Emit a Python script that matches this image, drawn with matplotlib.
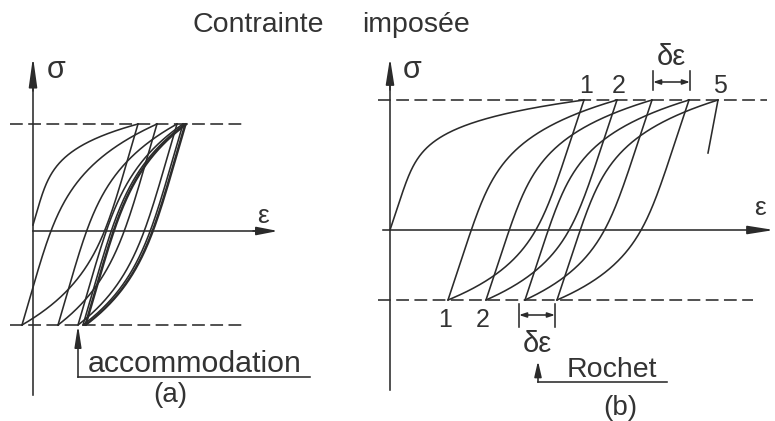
import numpy as np
import matplotlib.pyplot as plt

plt.rcParams['font.family'] = ['Liberation Sans', 'DejaVu Sans']

# -----------------------------
# Data (strain / stress in drawing units, origin at each panel's axes)
# -----------------------------
# (a) imposed stress, loops settle onto a stable cycle
a_sig_max = 107
a_sig_min = -94
a_load_start = (0, 6)
a_top_eps = [105, 124, 144, 150, 152, 153, 154]
a_bot_eps = [-11, 25, 45, 50, 52, 53]

# (b) imposed stress with a mean stress, strain keeps drifting
b_sig_max = 130
b_sig_min = -70
b_load_start = (0, 0)
b_top_eps = [194, 227, 262, 299, 328]
b_bot_eps = [58, 96, 135, 167]
b_last_unload_end = (318, 77)

b_top_labels = ["1", "2", "5"]
b_top_label_idx = [0, 1, 4]
b_bot_labels = ["1", "2"]
b_bot_label_idx = [0, 1]

# ratchet increments marked on the drawing
b_top_delta = (263, 300)
b_bot_delta = (129, 165)

# -----------------------------
# Style
# -----------------------------
W, H = 775, 421
INK = "#2b2b2b"
TXT = "#333333"
LW = 1.15
DASH = (0, (8, 3.4))


def branch(e0, s0, e1, s1, comp, n, num=300):
    """Half cycle: elastic line that bends into plastic flow near the end."""
    t = np.linspace(0, 1, num)
    s = 1 - (1 - t) ** 2
    sig = s0 + (s1 - s0) * s
    elastic = comp * (sig - s0)
    plastic = (e1 - e0 - comp * (s1 - s0)) * s ** n
    return e0 + elastic + plastic, sig


def cycles(start, tops, bots, smax, smin, comp, n_load, n_cyc):
    paths = [branch(start[0], start[1], tops[0], smax, comp, n_load)]
    for i, eb in enumerate(bots):
        paths.append(branch(tops[i], smax, eb, smin, comp, n_cyc))
        if i + 1 < len(tops):
            paths.append(branch(eb, smin, tops[i + 1], smax, comp, n_cyc))
    return paths


def arrow(ax, start, tip, hl, hw, style="-|>"):
    ax.annotate("", xy=tip, xytext=start,
                arrowprops=dict(arrowstyle=f"{style},head_length={hl * 0.72},head_width={hw * 0.72}",
                                mutation_scale=1, lw=LW, color=INK,
                                shrinkA=0, shrinkB=0))


def panel(ox, oy):
    ax = fig.add_axes([0, 0, 1, 1])
    ax.set_xlim(-ox, W - ox)
    ax.set_ylim(oy - H, oy)
    ax.axis("off")
    ax.patch.set_alpha(0)
    return ax


fig = plt.figure(figsize=(W / 100, H / 100), dpi=100)
fig.patch.set_facecolor("white")

# -----------------------------
# Panel (a)
# -----------------------------
ax_a = panel(33, 231)

for x, y in cycles(a_load_start, a_top_eps, a_bot_eps, a_sig_max, a_sig_min, 0.29, 4.5, 5):
    ax_a.plot(x, y, color=INK, lw=LW)

ax_a.plot([-23, 210], [a_sig_max, a_sig_max], color=INK, lw=LW, ls=DASH)
ax_a.plot([-23, 210], [a_sig_min, a_sig_min], color=INK, lw=LW, ls=DASH)

ax_a.plot([0, 0], [-164, 150], color=INK, lw=LW)
arrow(ax_a, (0, 140), (0, 174), 25, 3.5)
ax_a.plot([0, 228], [0, 0], color=INK, lw=LW)
arrow(ax_a, (220, 0), (245, 0), 18, 3.5)

ax_a.text(23, 161, "σ", fontsize=22, color=TXT, ha="center", va="center")
ax_a.text(230, 15, "ε", fontsize=19, color=TXT, ha="center", va="center")

# accommodation marker
ax_a.plot([45, 277], [-146, -146], color=INK, lw=LW)
ax_a.plot([45, 45], [-146, -110], color=INK, lw=LW)
arrow(ax_a, (45, -115), (45, a_sig_min), 18, 2.8)
ax_a.text(55, -141, "accommodation", fontsize=21.8, color=TXT, ha="left", va="baseline")
ax_a.text(137, -164, "(a)", fontsize=20, color=TXT, ha="center", va="center")

# -----------------------------
# Panel (b)
# -----------------------------
ax_b = panel(390, 230)

for x, y in cycles(b_load_start, b_top_eps, b_bot_eps, b_sig_max, b_sig_min, 0.33, 6, 6):
    ax_b.plot(x, y, color=INK, lw=LW)
ax_b.plot([b_top_eps[-1], b_last_unload_end[0]], [b_sig_max, b_last_unload_end[1]],
          color=INK, lw=LW)

ax_b.plot([-12, 377], [b_sig_max, b_sig_max], color=INK, lw=LW, ls=DASH)
ax_b.plot([-12, 363], [b_sig_min, b_sig_min], color=INK, lw=LW, ls=DASH)

ax_b.plot([0, 0], [-160, 150], color=INK, lw=LW)
arrow(ax_b, (0, 140), (0, 172), 22, 3.5)
ax_b.plot([-7, 370], [0, 0], color=INK, lw=LW)
arrow(ax_b, (360, 0), (384, 0), 22, 3.5)

ax_b.text(22, 160, "σ", fontsize=22, color=TXT, ha="center", va="center")
ax_b.text(370, 22, "ε", fontsize=19, color=TXT, ha="center", va="center")

for lab, i in zip(b_top_labels, b_top_label_idx):
    ax_b.text(b_top_eps[i] + 2, b_sig_max + 14, lab, fontsize=18, color=TXT,
              ha="center", va="center")
for lab, i in zip(b_bot_labels, b_bot_label_idx):
    ax_b.text(b_bot_eps[i] - 3, b_sig_min - 20, lab, fontsize=18, color=TXT,
              ha="center", va="center")

# ratchet increment, top
x0, x1 = b_top_delta
for xx in (x0, x1):
    ax_b.plot([xx, xx], [b_sig_max + 10, b_sig_max + 29], color=INK, lw=LW)
arrow(ax_b, (x0, b_sig_max + 18), (x1, b_sig_max + 18), 6, 2, style="<|-|>")
ax_b.text((x0 + x1) / 2, b_sig_max + 43, "δε", fontsize=21, color=TXT,
          ha="center", va="center")

# ratchet increment, bottom
x0, x1 = b_bot_delta
for xx in (x0, x1):
    ax_b.plot([xx, xx], [b_sig_min - 4, b_sig_min - 27], color=INK, lw=LW)
arrow(ax_b, (x0, b_sig_min - 15), (x1, b_sig_min - 15), 6, 2, style="<|-|>")
ax_b.text((x0 + x1) / 2, b_sig_min - 44, "δε", fontsize=21, color=TXT,
          ha="center", va="center")

# ratcheting marker
ax_b.plot([148, 277], [-152, -152], color=INK, lw=LW)
ax_b.plot([148, 148], [-152, -142], color=INK, lw=LW)
arrow(ax_b, (148, -145), (148, -131), 13, 3)
ax_b.text(177, -147, "Rochet", fontsize=20.5, color=TXT, ha="left", va="baseline")
ax_b.text(230, -178, "(b)", fontsize=20, color=TXT, ha="center", va="center")

# -----------------------------
# Heading
# -----------------------------
fig.text(258 / W, 1 - 32 / H, "Contrainte", fontsize=20.5, color=TXT,
         ha="center", va="baseline")
fig.text(416 / W, 1 - 32 / H, "imposée", fontsize=20.5, color=TXT,
         ha="center", va="baseline")

fig.savefig("out.png", dpi=100, facecolor="white")
